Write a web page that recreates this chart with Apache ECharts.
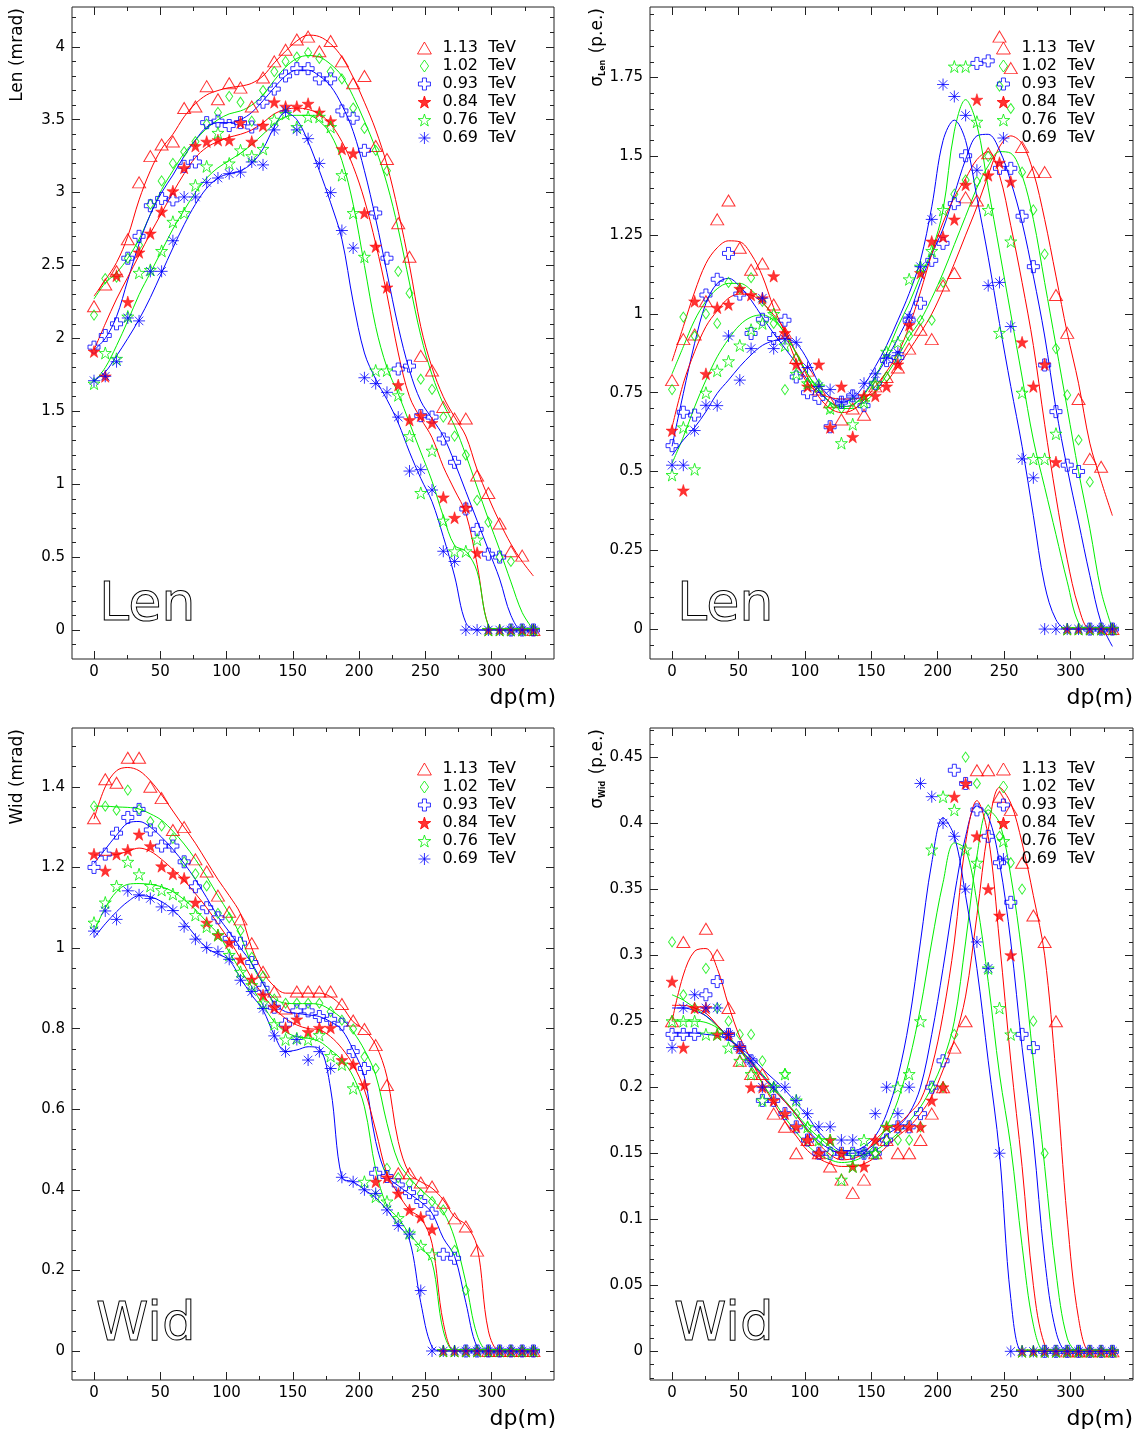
<!DOCTYPE html>
<html>
<head>
<meta charset="utf-8">
<script src="https://cdn.jsdelivr.net/npm/echarts@6/dist/echarts.min.js"></script>
<style>
html,body{margin:0;padding:0;background:#fff;}
#chart{width:1138px;height:1437px;}
</style>
</head>
<body>
<div id="chart"></div>
<script>
// ---------- x grid (dp, metres) ----------
const dp = [0,8.5,17,25.5,34,42.5,51,59.5,68,76.5,85,93.5,102,110.5,119,127.5,136,144.5,153,161.5,170,178.5,187,195.5,204,212.5,221,229.5,238,246.5,255,263.5,272,280.5,289,297.5,306,314.5,323,331.5];

const energyNames = ['1.13  TeV','1.02  TeV','0.93  TeV','0.84  TeV','0.76  TeV','0.69  TeV'];

// ---------- Panel 1 : Len (mrad) ----------
const len113 = [2.22,2.37,2.46,2.68,3.07,3.25,3.33,3.35,3.58,3.59,3.73,3.64,3.75,3.72,3.59,3.79,3.90,3.98,4.05,4.07,3.97,4.04,3.90,3.75,3.80,3.32,3.23,2.79,2.56,1.88,1.78,1.53,1.45,1.45,1.06,0.94,0.73,0.54,0.51,0];
const len102 = [2.16,2.41,2.42,2.55,2.64,2.92,3.08,3.20,3.28,3.35,3.47,3.55,3.66,3.62,3.49,3.70,3.83,3.90,3.93,3.96,3.92,3.83,3.78,3.58,3.44,3.29,3.15,2.46,2.31,1.72,1.65,1.46,1.33,1.20,0.89,0.74,0.50,0.47,0,0];
const len093 = [1.94,2.02,2.10,2.55,2.70,2.91,2.96,2.95,3.18,3.21,3.48,3.49,3.46,3.48,3.45,3.62,3.71,3.80,3.85,3.85,3.78,3.78,3.56,3.51,3.29,2.86,2.55,1.79,1.81,1.47,1.46,1.31,1.15,0.83,0.69,0.52,0.50,0,0,0];
const len084 = [1.91,1.74,2.43,2.25,2.59,2.72,2.87,3.01,3.17,3.32,3.35,3.36,3.36,3.48,3.35,3.46,3.62,3.59,3.59,3.61,3.55,3.49,3.30,3.27,2.86,2.63,2.35,1.68,1.44,1.47,1.42,0.91,0.77,0.84,0.53,0,0,0,0,0];
const len076 = [1.69,1.90,1.86,2.15,2.45,2.47,2.60,2.80,2.86,3.05,3.18,3.41,3.20,3.29,3.25,3.30,3.50,3.54,3.45,3.52,3.52,3.45,3.12,2.86,2.56,1.78,1.78,1.61,1.33,0.94,1.23,0.75,0.54,0.54,0.62,0,0,0,0,0];
const len069 = [1.71,1.74,1.84,2.14,2.12,2.46,2.46,2.67,2.97,2.97,3.07,3.10,3.13,3.14,3.21,3.19,3.43,3.56,3.43,3.37,3.20,3.00,2.74,2.62,1.73,1.69,1.63,1.46,1.09,1.10,0.96,0.54,0.47,0,0,0,0,0,0,0];
const lenFit113 = [2.29,2.40,2.52,2.70,2.95,3.15,3.30,3.40,3.52,3.61,3.67,3.70,3.72,3.73,3.75,3.80,3.89,3.97,4.04,4.08,4.07,4.02,3.93,3.79,3.62,3.43,3.19,2.87,2.50,2.08,1.80,1.60,1.46,1.33,1.10,0.91,0.74,0.59,0.47,0.37];
const lenFit102 = [2.27,2.38,2.45,2.55,2.68,2.85,3.02,3.15,3.27,3.36,3.44,3.50,3.54,3.56,3.60,3.67,3.77,3.86,3.92,3.94,3.93,3.88,3.80,3.66,3.49,3.30,3.06,2.75,2.38,2.02,1.75,1.55,1.40,1.20,0.98,0.76,0.55,0.33,0.12,0];
const lenFit093 = [1.92,2.00,2.15,2.40,2.65,2.85,3.00,3.12,3.25,3.36,3.45,3.48,3.48,3.50,3.55,3.63,3.72,3.80,3.84,3.84,3.80,3.73,3.60,3.42,3.15,2.82,2.45,2.08,1.78,1.57,1.45,1.33,1.15,0.95,0.75,0.55,0.35,0.10,0,0];
const lenFit084 = [1.92,2.10,2.27,2.42,2.57,2.72,2.86,3.00,3.13,3.24,3.31,3.35,3.38,3.40,3.43,3.48,3.54,3.57,3.58,3.57,3.54,3.47,3.35,3.18,2.95,2.65,2.30,1.90,1.60,1.45,1.32,1.12,0.96,0.80,0.45,0.03,0,0,0,0];
const lenFit076 = [1.70,1.80,1.95,2.12,2.30,2.45,2.60,2.75,2.88,3.00,3.10,3.17,3.22,3.27,3.33,3.40,3.47,3.52,3.53,3.53,3.49,3.40,3.22,2.92,2.50,2.08,1.80,1.62,1.42,1.22,1.02,0.78,0.58,0.54,0.40,0.03,0,0,0,0];
const lenFit069 = [1.71,1.77,1.88,2.00,2.13,2.28,2.45,2.62,2.78,2.92,3.03,3.10,3.13,3.15,3.20,3.30,3.45,3.55,3.50,3.35,3.15,2.93,2.68,2.25,1.90,1.72,1.58,1.42,1.22,1.04,0.88,0.64,0.37,0.05,0,0,0,0,0,0];

// ---------- Panel 2 : sigma Len (p.e.) ----------
const sLen113 = [0.79,0.92,0.935,1.04,1.30,1.36,1.21,1.14,1.16,1.03,0.94,0.86,0.82,0.76,0.72,0.665,0.70,0.68,0.77,0.80,0.83,0.89,0.95,0.92,1.09,1.13,1.37,1.36,1.51,1.88,1.78,1.53,1.45,1.45,1.06,0.94,0.73,0.54,0.515,0];
const sLen102 = [0.76,0.99,0.93,1.00,0.97,1.10,1.08,1.115,1.04,0.97,0.76,0.86,0.78,0.778,0.70,0.70,0.72,0.73,0.77,0.80,0.86,0.93,0.98,0.98,1.10,1.38,1.425,1.42,1.50,1.723,1.652,1.45,1.33,1.19,0.89,0.743,0.60,0.467,0,0];
const sLen093 = [0.582,0.688,0.679,1.06,1.11,1.192,1.063,0.938,0.983,0.922,0.98,0.80,0.75,0.732,0.642,0.72,0.74,0.709,0.78,0.852,0.862,0.98,1.034,1.17,1.224,1.35,1.502,1.795,1.803,1.462,1.462,1.31,1.15,0.838,0.69,0.52,0.50,0,0,0];
const sLen084 = [0.63,0.44,1.04,0.81,1.02,1.03,1.08,1.06,1.05,1.12,0.94,0.84,0.77,0.84,0.64,0.77,0.61,0.74,0.74,0.77,0.84,0.965,1.13,1.23,1.245,1.30,1.41,1.68,1.44,1.48,1.42,0.91,0.77,0.84,0.53,0,0,0,0,0];
const sLen076 = [0.489,0.64,0.507,0.75,0.82,0.85,0.90,0.95,0.97,1.00,0.90,0.81,0.78,0.77,0.70,0.59,0.65,0.72,0.78,0.88,0.91,1.11,1.15,1.20,1.33,1.785,1.785,1.61,1.33,0.94,1.23,0.75,0.54,0.54,0.62,0,0,0,0,0];
const sLen069 = [0.52,0.52,0.63,0.71,0.709,0.93,0.79,0.89,1.05,0.89,0.92,0.91,0.83,0.77,0.76,0.72,0.74,0.78,0.81,0.86,0.877,0.99,1.15,1.30,1.728,1.69,1.63,1.456,1.09,1.10,0.96,0.54,0.48,0,0,0,0,0,0,0];
const sLenFit113 = [0.85,0.96,1.07,1.16,1.21,1.232,1.229,1.19,1.12,1.02,0.94,0.85,0.78,0.75,0.735,0.73,0.73,0.737,0.753,0.785,0.833,0.885,0.94,1.00,1.076,1.16,1.25,1.34,1.44,1.53,1.565,1.54,1.45,1.30,1.12,0.94,0.78,0.59,0.47,0.36];
const sLenFit102 = [0.81,0.896,0.98,1.04,1.08,1.097,1.097,1.076,1.039,0.99,0.938,0.875,0.81,0.759,0.72,0.70,0.70,0.72,0.753,0.806,0.864,0.928,0.98,1.05,1.13,1.22,1.31,1.40,1.47,1.515,1.51,1.44,1.30,1.10,0.90,0.70,0.50,0.32,0.12,0];
const sLenFit093 = [0.58,0.748,0.907,1.034,1.097,1.113,1.087,1.044,0.99,0.938,0.891,0.843,0.79,0.753,0.72,0.706,0.711,0.748,0.80,0.859,0.922,0.997,1.10,1.19,1.27,1.38,1.49,1.565,1.57,1.52,1.42,1.29,1.12,0.93,0.70,0.51,0.34,0.17,0.02,-0.055];
const sLenFit084 = [0.64,0.78,0.88,0.96,1.01,1.05,1.063,1.06,1.035,0.997,0.949,0.875,0.80,0.737,0.70,0.687,0.695,0.727,0.77,0.817,0.875,0.96,1.07,1.19,1.29,1.37,1.43,1.49,1.515,1.44,1.28,1.10,0.90,0.65,0.42,0.22,0.07,0,0,0];
const sLenFit076 = [0.526,0.61,0.705,0.79,0.864,0.92,0.965,0.99,0.997,0.98,0.938,0.875,0.81,0.759,0.72,0.706,0.711,0.743,0.80,0.875,0.96,1.034,1.12,1.20,1.33,1.58,1.68,1.60,1.40,1.20,1.00,0.80,0.60,0.45,0.30,0.15,0.02,0,0,0];
const sLenFit069 = [0.55,0.60,0.64,0.69,0.748,0.79,0.833,0.87,0.90,0.915,0.922,0.906,0.854,0.78,0.737,0.72,0.732,0.774,0.833,0.90,0.98,1.065,1.17,1.34,1.55,1.615,1.55,1.37,1.18,0.97,0.77,0.58,0.36,0.14,0.03,0,0,0,0,0];

// ---------- Panel 3 : Wid (mrad) ----------
const wid113 = [1.322,1.419,1.41,1.472,1.472,1.40,1.372,1.293,1.30,1.22,1.19,1.13,1.09,1.071,1.012,0.941,0.892,0.85,0.892,0.892,0.892,0.892,0.861,0.82,0.799,0.759,0.66,0.441,0.441,0.418,0.408,0.368,0.329,0.309,0.249,0,0,0,0,0];
const wid102 = [1.352,1.352,1.342,1.392,1.344,1.314,1.303,1.272,1.214,1.184,1.154,1.086,1.075,1.043,0.977,0.93,0.873,0.863,0.863,0.863,0.863,0.842,0.821,0.799,0.73,0.701,0.453,0.43,0.416,0.39,0.371,0.35,0.25,0.151,0,0,0,0,0,0];
const wid093 = [1.20,1.233,1.285,1.324,1.344,1.293,1.253,1.253,1.214,1.152,1.10,1.075,1.024,1.012,0.964,0.90,0.853,0.811,0.844,0.844,0.83,0.823,0.811,0.743,0.701,0.441,0.433,0.412,0.393,0.371,0.342,0.24,0.23,0,0,0,0,0,0,0];
const wid084 = [1.233,1.192,1.233,1.243,1.282,1.253,1.203,1.184,1.173,1.113,1.063,1.032,1.013,0.972,0.922,0.883,0.853,0.802,0.823,0.792,0.802,0.802,0.722,0.711,0.66,0.42,0.431,0.391,0.35,0.332,0.302,0,0,0,0,0,0,0,0,0];
const wid076 = [1.063,1.113,1.154,1.214,1.183,1.154,1.144,1.134,1.113,1.082,1.053,1.032,0.983,0.941,0.908,0.863,0.811,0.773,0.776,0.773,0.784,0.732,0.711,0.652,0.42,0.383,0.371,0.33,0.292,0.261,0.24,0,0,0,0,0,0,0,0,0];
const wid069 = [1.042,1.092,1.071,1.142,1.132,1.123,1.102,1.093,1.053,1.022,1.001,0.991,0.972,0.92,0.892,0.85,0.782,0.743,0.773,0.722,0.743,0.701,0.431,0.42,0.40,0.391,0.35,0.311,0.29,0.15,0,0,0,0,0,0,0,0,0,0];
const widFit113 = [1.32,1.40,1.44,1.448,1.44,1.415,1.38,1.34,1.30,1.26,1.215,1.17,1.13,1.085,1.00,0.94,0.905,0.888,0.888,0.888,0.888,0.879,0.855,0.817,0.797,0.76,0.68,0.52,0.44,0.42,0.404,0.375,0.333,0.313,0.259,0.05,0,0,0,0];
const widFit102 = [1.352,1.352,1.35,1.349,1.345,1.333,1.317,1.29,1.258,1.22,1.177,1.13,1.085,1.03,0.96,0.912,0.875,0.863,0.862,0.862,0.86,0.846,0.825,0.792,0.747,0.685,0.565,0.47,0.43,0.40,0.375,0.345,0.28,0.17,0.04,0,0,0,0,0];
const widFit093 = [1.21,1.245,1.28,1.31,1.314,1.30,1.275,1.245,1.21,1.17,1.125,1.078,1.04,1.0,0.962,0.912,0.863,0.842,0.838,0.834,0.83,0.817,0.797,0.747,0.68,0.52,0.435,0.41,0.39,0.37,0.342,0.28,0.235,0.12,0.01,0,0,0,0,0];
const widFit084 = [1.231,1.23,1.232,1.24,1.248,1.24,1.22,1.195,1.168,1.135,1.10,1.06,1.02,0.974,0.925,0.883,0.85,0.825,0.809,0.80,0.797,0.78,0.751,0.71,0.648,0.548,0.44,0.39,0.35,0.33,0.267,0.07,0,0,0,0,0,0,0,0];
const widFit076 = [1.04,1.10,1.14,1.158,1.16,1.158,1.152,1.14,1.12,1.095,1.065,1.035,0.99,0.945,0.904,0.858,0.817,0.792,0.78,0.776,0.768,0.747,0.722,0.681,0.606,0.45,0.36,0.33,0.29,0.258,0.22,0.05,0,0,0,0,0,0,0,0];
const widFit069 = [1.025,1.06,1.09,1.115,1.13,1.127,1.115,1.095,1.065,1.03,1.0,0.985,0.97,0.925,0.883,0.846,0.784,0.743,0.747,0.755,0.751,0.65,0.43,0.42,0.40,0.38,0.35,0.313,0.275,0.12,0.01,0,0,0,0,0,0,0,0,0];

// ---------- Panel 4 : sigma Wid (p.e.) ----------
const sWid113 = [0.25,0.31,null,0.32,0.30,0.26,0.22,0.21,0.21,0.18,0.17,0.15,0.16,0.15,0.14,0.13,0.12,0.13,0.15,0.16,0.15,0.15,0.16,0.18,0.20,0.23,0.25,0.44,0.44,0.42,0.41,0.37,0.33,0.31,0.25,0,0,0,0,0];
const sWid102 = [0.31,0.27,0.26,0.29,0.26,0.25,0.24,0.24,0.22,0.20,0.21,0.18,0.17,0.16,0.15,0.15,0.15,0.15,0.15,0.16,0.16,0.16,0.17,0.20,0.20,0.24,0.45,0.43,0.41,0.39,0.37,0.35,0.25,0.15,0,0,0,0,0,0];
const sWid093 = [0.24,0.24,0.24,0.27,0.28,0.24,0.23,0.22,0.19,0.19,0.18,0.17,0.16,0.15,0.15,0.15,0.15,0.15,0.15,0.16,0.17,0.17,0.18,0.20,0.22,0.44,0.43,0.41,0.39,0.37,0.34,0.24,0.23,0,0,0,0,0,0,0];
const sWid084 = [0.28,0.23,0.26,0.26,0.24,0.24,0.23,0.20,0.20,0.19,0.18,0.17,0.16,0.15,0.16,0.15,0.14,0.14,0.16,0.17,0.17,0.17,0.17,0.19,0.20,0.42,0.43,0.39,0.35,0.33,0.30,0,0,0,0,0,0,0,0,0];
const sWid076 = [0.25,0.25,0.25,0.24,0.24,0.23,0.22,0.21,0.19,0.20,0.21,0.19,0.17,0.16,0.16,0.13,0.14,0.16,0.15,0.17,0.20,0.21,0.25,0.38,0.42,0.41,0.38,0.37,0.29,0.26,0.24,0,0,0,0,0,0,0,0,0];
const sWid069 = [0.23,0.26,0.27,0.26,0.26,0.24,0.23,0.22,0.20,0.20,0.20,0.19,0.18,0.17,0.17,0.16,0.16,0.15,0.18,0.20,0.18,0.20,0.43,0.42,0.40,0.39,0.35,0.31,0.29,0.15,0,0,0,0,0,0,0,0,0,0];
const sWidFit113 = [0.25,0.285,0.303,0.305,0.29,0.262,0.238,0.221,0.203,0.188,0.174,0.163,0.152,0.146,0.142,0.14,0.14,0.142,0.147,0.155,0.163,0.17,0.18,0.193,0.213,0.236,0.269,0.33,0.395,0.427,0.415,0.385,0.345,0.30,0.21,0.10,0.025,0,0,0];
const sWidFit102 = [0.27,0.266,0.26,0.254,0.246,0.238,0.229,0.22,0.21,0.20,0.19,0.18,0.17,0.162,0.155,0.15,0.148,0.149,0.152,0.158,0.165,0.174,0.185,0.20,0.22,0.25,0.31,0.375,0.41,0.40,0.36,0.30,0.22,0.14,0.06,0.01,0,0,0,0];
const sWidFit093 = [0.26,0.26,0.258,0.254,0.247,0.238,0.229,0.219,0.209,0.199,0.189,0.179,0.168,0.159,0.153,0.15,0.15,0.152,0.157,0.164,0.17,0.18,0.20,0.24,0.29,0.345,0.39,0.413,0.405,0.37,0.31,0.23,0.16,0.07,0.015,0,0,0,0,0];
const sWidFit084 = [0.262,0.262,0.26,0.256,0.247,0.237,0.228,0.218,0.208,0.198,0.189,0.179,0.167,0.157,0.149,0.145,0.146,0.15,0.16,0.168,0.172,0.18,0.19,0.215,0.255,0.31,0.385,0.417,0.39,0.31,0.22,0.14,0.05,0.005,0,0,0,0,0,0];
const sWidFit076 = [0.25,0.25,0.25,0.249,0.245,0.238,0.228,0.216,0.203,0.19,0.177,0.166,0.156,0.149,0.145,0.143,0.144,0.148,0.157,0.17,0.19,0.22,0.26,0.31,0.355,0.385,0.38,0.34,0.28,0.21,0.155,0.08,0.02,0,0,0,0,0,0,0];
const sWidFit069 = [0.241,0.241,0.241,0.24,0.239,0.236,0.23,0.223,0.214,0.206,0.198,0.188,0.178,0.166,0.158,0.152,0.152,0.155,0.163,0.18,0.208,0.25,0.31,0.37,0.404,0.39,0.345,0.29,0.22,0.15,0.04,0,0,0,0,0,0,0,0,0];

// ---------- tick labels ----------
const xMajorTicks = [0,50,100,150,200,250,300];
const xMinorTicks = [25,75,125,175,225,275,325];
const yTicksLen = [0,0.5,1,1.5,2,2.5,3,3.5,4];
const yTicksSigLen = [0,0.25,0.5,0.75,1,1.25,1.5,1.75];
const yTicksWid = [0,0.2,0.4,0.6,0.8,1,1.2,1.4];
const yTicksSigWid = [0,0.05,0.1,0.15,0.2,0.25,0.3,0.35,0.4,0.45];

// ---------- styles ----------
const RED='#ff0000', GREEN='#00ee00', BLUE='#0000ff';
const colors = [RED, GREEN, BLUE, RED, GREEN, BLUE];
const SYM_TRI = 'path://M6,0 L12,10.4 L0,10.4 Z';
const SYM_DIA = 'path://M3.5,0 L7,5 L3.5,10 L0,5 Z';
const SYM_CROSS = 'path://M4,0 L8,0 L8,4 L12,4 L12,8 L8,8 L8,12 L4,12 L4,8 L0,8 L0,4 L4,4 Z';
const SYM_STAR = 'path://M50,0 L61.2,34.5 L97.6,34.5 L68.2,55.9 L79.4,90.5 L50,69.1 L20.6,90.5 L31.8,55.9 L2.4,34.5 L38.8,34.5 Z';
const SYM_AST = 'path://M5,0 L5,10 M0,5 L10,5 M1.46,1.46 L8.54,8.54 M8.54,1.46 L1.46,8.54';
const symbols = [SYM_TRI, SYM_DIA, SYM_CROSS, SYM_STAR, SYM_STAR, SYM_AST];
const symSizes = [[13,11],[7,10],[12,12],[12,12],[12,12],[12,12]];
const filled = [false,false,false,true,false,false];
const FONT = 'DejaVu Sans';

const panels = [
  { grid:{left:72, top:7, width:482, height:652}, y:[-0.199,4.273], yMajor:yTicksLen, yStep:0.1,
    pts:[len113,len102,len093,len084,len076,len069], fits:[lenFit113,lenFit102,lenFit093,lenFit084,lenFit076,lenFit069], legend:{left:412, top:34} },
  { grid:{left:650, top:7, width:483, height:652}, y:[-0.095,1.974], yMajor:yTicksSigLen, yStep:0.05,
    pts:[sLen113,sLen102,sLen093,sLen084,sLen076,sLen069], fits:[sLenFit113,sLenFit102,sLenFit093,sLenFit084,sLenFit076,sLenFit069], legend:{left:991, top:34} },
  { grid:{left:72, top:728, width:482, height:652}, y:[-0.072,1.546], yMajor:yTicksWid, yStep:0.05,
    pts:[wid113,wid102,wid093,wid084,wid076,wid069], fits:[widFit113,widFit102,widFit093,widFit084,widFit076,widFit069], legend:{left:412, top:755} },
  { grid:{left:650, top:728, width:483, height:652}, y:[-0.0217,0.472], yMajor:yTicksSigWid, yStep:0.01,
    pts:[sWid113,sWid102,sWid093,sWid084,sWid076,sWid069], fits:[sWidFit113,sWidFit102,sWidFit093,sWidFit084,sWidFit076,sWidFit069], legend:{left:991, top:755} }
];
const X_RANGE = [-16.6, 347];

function toPairs(ys){ const out=[]; ys.forEach((v,i)=>{ if(v!==null && v!==undefined) out.push([dp[i], v]); }); return out; }
function minorList(range, step, majors){
  const out=[]; const a=Math.ceil(range[0]/step-1e-9), b=Math.floor(range[1]/step+1e-9);
  for(let i=a;i<=b;i++){ const v=+(i*step).toFixed(6); if(!majors.some(m=>Math.abs(m-v)<1e-9)) out.push(v); }
  return out;
}

const option = { animation:false, backgroundColor:'#fff', grid:[], xAxis:[], yAxis:[], series:[], legend:[], graphic:[] };
const tickLine = {color:'#222', width:1};

panels.forEach((p,g)=>{
  option.grid.push(Object.assign({show:true, borderColor:'#222', borderWidth:1, backgroundColor:'transparent'}, p.grid));
  const yMinor = minorList(p.y, p.yStep, p.yMajor);
  const baseX = {type:'value', gridIndex:g, min:X_RANGE[0], max:X_RANGE[1], axisLine:{show:false,onZero:false}, splitLine:{show:false}};
  const baseY = {type:'value', gridIndex:g, min:p.y[0], max:p.y[1], axisLine:{show:false,onZero:false}, splitLine:{show:false}};
  option.xAxis.push(Object.assign({}, baseX, {position:'bottom',
    axisTick:{inside:true,length:8,lineStyle:tickLine,customValues:xMajorTicks},
    axisLabel:{show:true,customValues:xMajorTicks,margin:6,fontSize:15,fontFamily:FONT,color:'#000'}}));
  option.xAxis.push(Object.assign({}, baseX, {position:'bottom',
    axisTick:{inside:true,length:4,lineStyle:tickLine,customValues:xMinorTicks}, axisLabel:{show:false}}));
  option.xAxis.push(Object.assign({}, baseX, {position:'top',
    axisTick:{inside:true,length:8,lineStyle:tickLine,customValues:xMajorTicks}, axisLabel:{show:false}}));
  option.xAxis.push(Object.assign({}, baseX, {position:'top',
    axisTick:{inside:true,length:4,lineStyle:tickLine,customValues:xMinorTicks}, axisLabel:{show:false}}));
  option.yAxis.push(Object.assign({}, baseY, {position:'left',
    axisTick:{inside:true,length:8,lineStyle:tickLine,customValues:p.yMajor},
    axisLabel:{show:true,customValues:p.yMajor,margin:7,fontSize:15,fontFamily:FONT,color:'#000'}}));
  option.yAxis.push(Object.assign({}, baseY, {position:'left',
    axisTick:{inside:true,length:4,lineStyle:tickLine,customValues:yMinor}, axisLabel:{show:false}}));
  option.yAxis.push(Object.assign({}, baseY, {position:'right',
    axisTick:{inside:true,length:8,lineStyle:tickLine,customValues:p.yMajor}, axisLabel:{show:false}}));
  option.yAxis.push(Object.assign({}, baseY, {position:'right',
    axisTick:{inside:true,length:4,lineStyle:tickLine,customValues:yMinor}, axisLabel:{show:false}}));

  p.fits.forEach((f,i)=>{
    option.series.push({ type:'line', name:'fit '+energyNames[i]+' '+g, xAxisIndex:4*g, yAxisIndex:4*g,
      data:toPairs(f), smooth:0.35, symbol:'none', silent:true,
      lineStyle:{color:colors[i], width:1}, z:2 });
  });
  p.pts.forEach((d,i)=>{
    option.series.push({ type:'scatter', name:energyNames[i], xAxisIndex:4*g, yAxisIndex:4*g,
      data:toPairs(d), symbol:symbols[i], symbolSize:symSizes[i],
      itemStyle: filled[i] ? {color:colors[i], borderColor:colors[i], borderWidth:0.6}
                           : {color:'rgba(255,255,255,0)', borderColor:colors[i], borderWidth:1},
      z:3 });
  });
  option.legend.push({ show:true, orient:'vertical', left:p.legend.left, top:p.legend.top,
    itemWidth:26, itemHeight:12, itemGap:0, selectedMode:false, data:energyNames,
    itemStyle:{borderWidth:1},
    textStyle:{fontSize:16, fontFamily:FONT, color:'#000', lineHeight:18} });
});

const yTitleStyle = {font:'17px "DejaVu Sans"', fill:'#000', textAlign:'right', textVerticalAlign:'middle'};
const tagStyle = (t, size)=>({text:t, font:size+'px "DejaVu Sans"', fill:'none', stroke:'#000', lineWidth:1, textAlign:'left', textVerticalAlign:'middle'});
option.graphic = [
  {type:'text', x:18, y:8, rotation:Math.PI/2, style:Object.assign({text:'Len (mrad)'}, yTitleStyle)},
  {type:'text', x:18, y:729, rotation:Math.PI/2, style:Object.assign({text:'Wid (mrad)'}, yTitleStyle)},
  {type:'text', x:598, y:8, rotation:Math.PI/2, style:{text:'{s|σ}{b|Len} (p.e.)', font:'17px "DejaVu Sans"', fill:'#000', textAlign:'right', textVerticalAlign:'middle',
     rich:{s:{fontSize:17,fontFamily:FONT,fill:'#000'}, b:{fontSize:8,fontFamily:FONT,fontWeight:'bold',fill:'#000',padding:[9,1,0,0]}}}},
  {type:'text', x:598, y:729, rotation:Math.PI/2, style:{text:'{s|σ}{b|Wid} (p.e.)', font:'17px "DejaVu Sans"', fill:'#000', textAlign:'right', textVerticalAlign:'middle',
     rich:{s:{fontSize:17,fontFamily:FONT,fill:'#000'}, b:{fontSize:8,fontFamily:FONT,fontWeight:'bold',fill:'#000',padding:[9,1,0,0]}}}},
  {type:'text', x:556, y:698, style:{text:'dp(m)', font:'22px "DejaVu Sans"', fill:'#000', textAlign:'right', textVerticalAlign:'middle'}},
  {type:'text', x:1133, y:698, style:{text:'dp(m)', font:'22px "DejaVu Sans"', fill:'#000', textAlign:'right', textVerticalAlign:'middle'}},
  {type:'text', x:556, y:1419, style:{text:'dp(m)', font:'22px "DejaVu Sans"', fill:'#000', textAlign:'right', textVerticalAlign:'middle'}},
  {type:'text', x:1133, y:1419, style:{text:'dp(m)', font:'22px "DejaVu Sans"', fill:'#000', textAlign:'right', textVerticalAlign:'middle'}},
  {type:'text', x:99, y:606, style:tagStyle('Len',54)},
  {type:'text', x:677, y:606, style:tagStyle('Len',54)},
  {type:'text', x:96, y:1326, style:tagStyle('Wid',53)},
  {type:'text', x:674, y:1326, style:tagStyle('Wid',53)}
];

const chart = echarts.init(document.getElementById('chart'), null, {renderer:'canvas', width:1138, height:1437});
chart.setOption(option);
</script>
</body>
</html>
